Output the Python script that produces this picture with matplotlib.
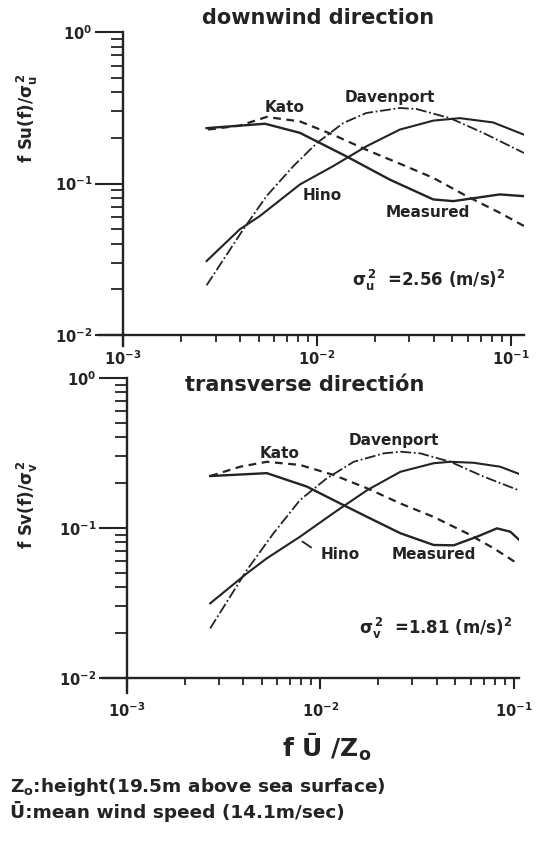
import matplotlib
matplotlib.use('Agg')
import matplotlib.pyplot as plt
from matplotlib.ticker import LogLocator, NullFormatter

plt.rcParams['font.family'] = ['DejaVu Sans']
plt.rcParams['font.weight'] = 'bold'
plt.rcParams['mathtext.fontset'] = 'dejavusans'
plt.rcParams['mathtext.default'] = 'bf'

INK = '#232323'

# ── downwind direction (u) ─────────────────────────────────────────
u_meas_x = [0.0027, 0.0054, 0.00817, 0.0142, 0.0238, 0.0398, 0.0505, 0.0666, 0.0877, 0.117]
u_meas_y = [0.232, 0.248, 0.216, 0.151, 0.106, 0.0785, 0.0765, 0.0805, 0.0847, 0.0825]

u_kato_x = [0.00275, 0.0040, 0.0055, 0.00817, 0.0121, 0.018, 0.0268, 0.0398, 0.0592, 0.0877, 0.117]
u_kato_y = [0.227, 0.241, 0.275, 0.257, 0.210, 0.167, 0.135, 0.109, 0.0826, 0.0641, 0.0524]

u_dav_x = [0.0027, 0.00417, 0.0055, 0.00755, 0.01, 0.0137, 0.018, 0.0268, 0.0327, 0.0486, 0.072, 0.117]
u_dav_y = [0.0213, 0.0498, 0.0826, 0.130, 0.185, 0.251, 0.292, 0.315, 0.310, 0.270, 0.216, 0.159]

u_hino_x = [0.0027, 0.004, 0.00508, 0.00817, 0.0121, 0.018, 0.0268, 0.0398, 0.0546, 0.081, 0.117]
u_hino_y = [0.0308, 0.0498, 0.061, 0.0985, 0.130, 0.176, 0.227, 0.260, 0.270, 0.253, 0.210]

# ── transverse direction (v) ───────────────────────────────────────
v_meas_x = [0.0027, 0.0053, 0.00853, 0.0127, 0.0175, 0.026, 0.0386, 0.049, 0.0647, 0.082, 0.0962, 0.107]
v_meas_y = [0.221, 0.231, 0.188, 0.145, 0.118, 0.0918, 0.0767, 0.0763, 0.0871, 0.099, 0.094, 0.0828]

v_kato_x = [0.0027, 0.00386, 0.0053, 0.00787, 0.0117, 0.0175, 0.026, 0.0386, 0.0574, 0.0789, 0.104]
v_kato_y = [0.221, 0.255, 0.275, 0.262, 0.225, 0.183, 0.145, 0.118, 0.0918, 0.0729, 0.058]

v_dav_x = [0.0027, 0.00418, 0.00574, 0.00787, 0.0108, 0.0149, 0.0213, 0.026, 0.0329, 0.0471, 0.070, 0.107]
v_dav_y = [0.0213, 0.0522, 0.0918, 0.153, 0.213, 0.275, 0.313, 0.321, 0.313, 0.275, 0.219, 0.177]

v_hino_x = [0.0027, 0.00418, 0.0053, 0.00787, 0.0117, 0.0175, 0.026, 0.0386, 0.0471, 0.062, 0.0853, 0.107]
v_hino_y = [0.0313, 0.0496, 0.0625, 0.0871, 0.125, 0.178, 0.236, 0.269, 0.275, 0.271, 0.255, 0.228]

W, H = 536, 841
fig = plt.figure(figsize=(W / 100, H / 100), dpi=100, facecolor='white')


def px_axes(left, right, top, bottom):
    return fig.add_axes([left / W, 1 - bottom / H, (right - left) / W, (bottom - top) / H])


def style(ax, xmax, xpad, drop):
    ax.set_xscale('log')
    ax.set_yscale('log')
    ax.set_xlim(1e-3, xmax)
    ax.set_ylim(1e-2, 1)
    for s in ('top', 'right'):
        ax.spines[s].set_visible(False)
    for s in ('left', 'bottom'):
        ax.spines[s].set_linewidth(1.7)
        ax.spines[s].set_color(INK)
    ax.xaxis.set_major_locator(LogLocator(base=10, numticks=5))
    ax.yaxis.set_major_locator(LogLocator(base=10, numticks=5))
    ax.xaxis.set_minor_locator(LogLocator(base=10, subs=range(2, 10), numticks=20))
    ax.yaxis.set_minor_locator(LogLocator(base=10, subs=range(2, 10), numticks=20))
    ax.xaxis.set_minor_formatter(NullFormatter())
    ax.yaxis.set_minor_formatter(NullFormatter())
    ax.tick_params(which='both', direction='out', colors=INK, labelsize=10.5)
    ax.tick_params(axis='x', which='major', length=8, width=1.5, pad=xpad)
    ax.tick_params(axis='x', which='minor', length=5, width=1.3)
    ax.tick_params(axis='y', which='major', length=20, width=1.5, pad=2)
    ax.tick_params(axis='y', which='minor', length=9, width=1.3)
    # axis lines overshoot the origin a little, as on the drawing
    ax.plot([-0.06, 0], [0, 0], transform=ax.transAxes, color=INK, lw=1.7, clip_on=False)
    ax.plot([0, 0], [-drop, 0], transform=ax.transAxes, color=INK, lw=1.7, clip_on=False)


def curves(ax, mx, my, kx, ky, dx, dy, hx, hy):
    ax.plot(mx, my, color=INK, lw=1.7, ls='-')
    ax.plot(kx, ky, color=INK, lw=1.6, ls=(0, (3.5, 2.5)))
    ax.plot(dx, dy, color=INK, lw=1.3, ls=(0, (6, 1.5, 1, 1.5)))
    ax.plot(hx, hy, color=INK, lw=1.5, ls='-')


lab = dict(fontsize=11, fontweight='bold', color=INK, ha='center', va='center')

# top panel
ax1 = px_axes(123, 524, 32, 335)
style(ax1, 0.117, 2, 0.035)
curves(ax1, u_meas_x, u_meas_y, u_kato_x, u_kato_y, u_dav_x, u_dav_y, u_hino_x, u_hino_y)
ax1.text(0.00684, 0.316, 'Kato', **lab)
ax1.text(0.0238, 0.37, 'Davenport', **lab)
ax1.text(0.0107, 0.0834, 'Hino', **lab)
ax1.text(0.0373, 0.0647, 'Measured', **lab)
ax1.text(0.0151, 0.0228, r'$\sigma_u^{\,2}$  =2.56 (m/s)$^2$', fontsize=12,
         fontweight='bold', color=INK, ha='left', va='center')
fig.text(318 / W, 1 - 18 / H, 'downwind direction', fontsize=15, fontweight='bold',
         color=INK, ha='center', va='center')
fig.text(27 / W, 1 - 118 / H, r'f Su(f)/$\sigma_u^{\,2}$', fontsize=12, fontweight='bold',
         color=INK, ha='center', va='center', rotation=90)

# bottom panel
ax2 = px_axes(126.7, 519.3, 377.7, 677.7)
style(ax2, 0.107, 9, 0.05)
curves(ax2, v_meas_x, v_meas_y, v_kato_x, v_kato_y, v_dav_x, v_dav_y, v_hino_x, v_hino_y)
ax2.text(0.0062, 0.313, 'Kato', **lab)
ax2.text(0.024, 0.384, 'Davenport', **lab)
ax2.text(0.0100, 0.0658, 'Hino', ha='left', va='center', fontsize=11,
         fontweight='bold', color=INK)
ax2.text(0.0386, 0.0658, 'Measured', **lab)
ax2.annotate('', xy=(0.00788, 0.0828), xytext=(0.00923, 0.0721),
             arrowprops=dict(arrowstyle='-', color=INK, lw=1.3))
ax2.text(0.0158, 0.0213, r'$\sigma_v^{\,2}$  =1.81 (m/s)$^2$', fontsize=12,
         fontweight='bold', color=INK, ha='left', va='center')
fig.text(305 / W, 1 - 385 / H, 'transverse directi\u00f3n', fontsize=15, fontweight='bold',
         color=INK, ha='center', va='center')
fig.text(27 / W, 1 - 505 / H, r'f Sv(f)/$\sigma_v^{\,2}$', fontsize=12, fontweight='bold',
         color=INK, ha='center', va='center', rotation=90)

# x label and notes
fig.text(327 / W, 1 - 747 / H, 'f \u016a /Z$_\\mathregular{o}$', fontsize=18, fontweight='bold',
         color=INK, ha='center', va='center')
fig.text(10 / W, 1 - 787 / H, 'Z$_\\mathregular{o}$:height(19.5m above sea surface)', fontsize=13.3,
         fontweight='bold', color=INK, ha='left', va='center')
fig.text(10 / W, 1 - 811 / H, '\u016a:mean wind speed (14.1m/sec)', fontsize=13.3,
         fontweight='bold', color=INK, ha='left', va='center')

plt.savefig('out.png', dpi=100, facecolor='white')
